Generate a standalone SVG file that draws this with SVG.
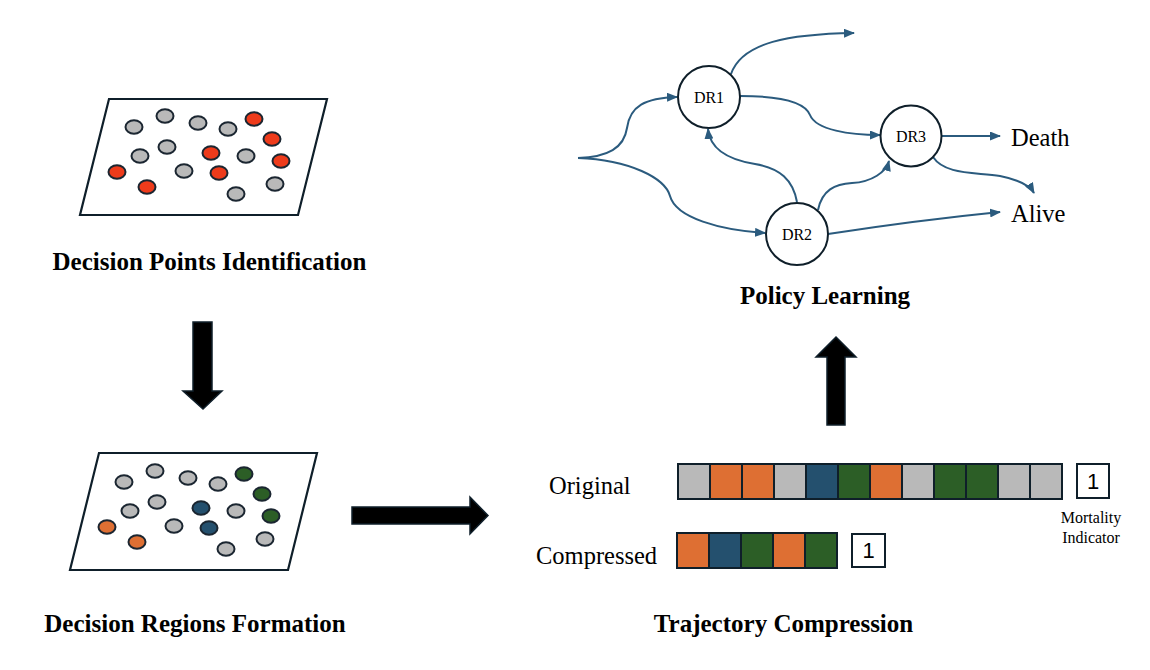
<svg xmlns="http://www.w3.org/2000/svg" width="1150" height="670" viewBox="0 0 1150 670">
<style>
.plane{fill:#fff;stroke:#0f1f2a;stroke-width:2.2}
.dot{stroke:#1b2631;stroke-width:2}
.g{fill:#b9b9b9}.r{fill:#ee3b1b}.gr{fill:#2c5e26}.b{fill:#24506e}.o{fill:#de6f33}
.big{fill:#000;stroke:#0f1f2a;stroke-width:1.5}
.node{fill:#fff;stroke:#0f1f2a;stroke-width:2}
.con{fill:none;stroke:#2b5b7e;stroke-width:2}
.lbl{font-family:"Liberation Serif","Times New Roman",serif;fill:#000}
.ttl{font-family:"Liberation Serif","Times New Roman",serif;font-weight:bold;font-size:25px;fill:#000;text-anchor:middle}
.cell{stroke:#0f1f2a;stroke-width:2}
.num{font-family:"Liberation Sans",Arial,sans-serif;font-size:22px;text-anchor:middle;fill:#000}
</style>
<defs>
<marker id="ah" markerUnits="userSpaceOnUse" markerWidth="11" markerHeight="9" refX="10" refY="4.5" orient="auto">
<path d="M0,0 L11,4.5 L0,9 z" fill="#2b5b7e"/>
</marker>
</defs>
<rect width="1150" height="670" fill="#fff"/>

<g id="decision-points">
<polygon class="plane" points="109,99 327,99 298,215 80,215"/>
<ellipse class="dot g" cx="134" cy="127" rx="8.5" ry="6.8"/>
<ellipse class="dot g" cx="165" cy="116" rx="8.5" ry="6.8"/>
<ellipse class="dot g" cx="198" cy="123" rx="8.5" ry="6.8"/>
<ellipse class="dot g" cx="228" cy="129" rx="8.5" ry="6.8"/>
<ellipse class="dot r" cx="254" cy="119" rx="8.5" ry="6.8"/>
<ellipse class="dot r" cx="272" cy="139" rx="8.5" ry="6.8"/>
<ellipse class="dot g" cx="167" cy="147" rx="8.5" ry="6.8"/>
<ellipse class="dot g" cx="140" cy="156" rx="8.5" ry="6.8"/>
<ellipse class="dot r" cx="211" cy="153" rx="8.5" ry="6.8"/>
<ellipse class="dot g" cx="246" cy="156" rx="8.5" ry="6.8"/>
<ellipse class="dot r" cx="281" cy="161" rx="8.5" ry="6.8"/>
<ellipse class="dot r" cx="117" cy="172" rx="8.5" ry="6.8"/>
<ellipse class="dot g" cx="184" cy="171" rx="8.5" ry="6.8"/>
<ellipse class="dot r" cx="219" cy="173" rx="8.5" ry="6.8"/>
<ellipse class="dot r" cx="147" cy="187" rx="8.5" ry="6.8"/>
<ellipse class="dot g" cx="275" cy="184" rx="8.5" ry="6.8"/>
<ellipse class="dot g" cx="236" cy="194" rx="8.5" ry="6.8"/>
<text class="ttl" x="209.5" y="270">Decision Points Identification</text>
</g>

<g id="decision-regions">
<polygon class="plane" points="99,453 317,453 288,570 70,570"/>
<g transform="translate(-10,355)">
<ellipse class="dot g" cx="134" cy="127" rx="8.5" ry="6.8"/>
<ellipse class="dot g" cx="165" cy="116" rx="8.5" ry="6.8"/>
<ellipse class="dot g" cx="198" cy="123" rx="8.5" ry="6.8"/>
<ellipse class="dot g" cx="228" cy="129" rx="8.5" ry="6.8"/>
<ellipse class="dot gr" cx="254" cy="119" rx="8.5" ry="6.8"/>
<ellipse class="dot gr" cx="272" cy="139" rx="8.5" ry="6.8"/>
<ellipse class="dot g" cx="167" cy="147" rx="8.5" ry="6.8"/>
<ellipse class="dot g" cx="140" cy="156" rx="8.5" ry="6.8"/>
<ellipse class="dot b" cx="211" cy="153" rx="8.5" ry="6.8"/>
<ellipse class="dot g" cx="246" cy="156" rx="8.5" ry="6.8"/>
<ellipse class="dot gr" cx="281" cy="161" rx="8.5" ry="6.8"/>
<ellipse class="dot o" cx="117" cy="172" rx="8.5" ry="6.8"/>
<ellipse class="dot g" cx="184" cy="171" rx="8.5" ry="6.8"/>
<ellipse class="dot b" cx="219" cy="173" rx="8.5" ry="6.8"/>
<ellipse class="dot o" cx="147" cy="187" rx="8.5" ry="6.8"/>
<ellipse class="dot g" cx="275" cy="184" rx="8.5" ry="6.8"/>
<ellipse class="dot g" cx="236" cy="194" rx="8.5" ry="6.8"/>
</g>
<text class="ttl" x="195" y="632">Decision Regions Formation</text>
</g>

<g id="big-arrows">
<polygon class="big" points="193,322 212,322 212,391 222,391 203,409 183,391 193,391"/>
<polygon class="big" points="352,507 470,507 470,497 488,515.5 470,534 470,524 352,524"/>
<polygon class="big" points="836,337 856,357 845,357 845,425 827,425 827,357 816,357"/>
</g>

<g id="connectors">
<path class="con" marker-end="url(#ah)" d="M578,158 C608,157 624,148 627,128 C630,106 645,98 677,97"/>
<path class="con" marker-end="url(#ah)" d="M578,158 C630,160 665,178 670,196 C676,218 720,230 765,233"/>
<path class="con" marker-end="url(#ah)" d="M731,74 C742,42 790,34 854,33"/>
<path class="con" marker-end="url(#ah)" d="M740,96 C790,96 806,105 810,115 C816,130 850,135 880,135"/>
<path class="con" marker-end="url(#ah)" d="M797,202 C793,180 780,168 755,164 C730,160 710,150 708,129"/>
<path class="con" marker-end="url(#ah)" d="M818,210 C822,190 835,184 852,183 C872,182 886,172 889,161"/>
<path class="con" marker-end="url(#ah)" d="M828,234 C880,226 940,218 1000,212"/>
<path class="con" marker-end="url(#ah)" d="M942,136 L1000,136"/>
<path class="con" marker-end="url(#ah)" d="M933,157 C945,175 975,172 1000,176 C1020,180 1030,186 1034,193"/>
</g>

<g id="DR1"><circle class="node" cx="709" cy="97" r="31"/><text class="lbl" x="709" y="102.5" font-size="16" text-anchor="middle">DR1</text></g>
<g id="DR2"><circle class="node" cx="797" cy="234" r="31"/><text class="lbl" x="797" y="239.5" font-size="16" text-anchor="middle">DR2</text></g>
<g id="DR3"><circle class="node" cx="911" cy="136" r="30.5"/><text class="lbl" x="911" y="141.5" font-size="16" text-anchor="middle">DR3</text></g>
<g id="death"><text class="lbl" x="1011" y="146" font-size="24.5">Death</text></g>
<g id="alive"><text class="lbl" x="1011" y="222" font-size="24.5">Alive</text></g>
<text class="ttl" x="825" y="304">Policy Learning</text>

<g id="trajectory">
<text class="lbl" x="549" y="494" font-size="24.5">Original</text>
<rect class="cell g" x="678" y="464" width="32" height="35"/>
<rect class="cell o" x="710" y="464" width="32" height="35"/>
<rect class="cell o" x="742" y="464" width="32" height="35"/>
<rect class="cell g" x="774" y="464" width="32" height="35"/>
<rect class="cell b" x="806" y="464" width="32" height="35"/>
<rect class="cell gr" x="838" y="464" width="32" height="35"/>
<rect class="cell o" x="870" y="464" width="32" height="35"/>
<rect class="cell g" x="902" y="464" width="32" height="35"/>
<rect class="cell gr" x="934" y="464" width="32" height="35"/>
<rect class="cell gr" x="966" y="464" width="32" height="35"/>
<rect class="cell g" x="998" y="464" width="32" height="35"/>
<rect class="cell g" x="1030" y="464" width="32" height="35"/>
<rect class="cell" fill="#fff" x="1077" y="464" width="32" height="34"/>
<text class="num" x="1093" y="489">1</text>
<text class="lbl" x="1091" y="523" font-size="16" text-anchor="middle">Mortality</text>
<text class="lbl" x="1091" y="543" font-size="16" text-anchor="middle">Indicator</text>
<text class="lbl" x="536" y="564" font-size="24.5">Compressed</text>
<rect class="cell o" x="677" y="533" width="32" height="35"/>
<rect class="cell b" x="709" y="533" width="32" height="35"/>
<rect class="cell gr" x="741" y="533" width="32" height="35"/>
<rect class="cell o" x="773" y="533" width="32" height="35"/>
<rect class="cell gr" x="805" y="533" width="32" height="35"/>
<rect class="cell" fill="#fff" x="852" y="534" width="33" height="33"/>
<text class="num" x="868.5" y="558">1</text>
<text class="ttl" x="783.5" y="632">Trajectory Compression</text>
</g>
</svg>
